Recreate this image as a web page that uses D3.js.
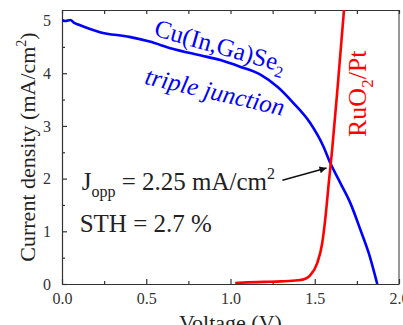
<!DOCTYPE html>
<html>
<head>
<meta charset="utf-8">
<script src="https://cdn.jsdelivr.net/npm/d3@7/dist/d3.min.js"></script>
<style>
  body { margin: 0; background: #fff; }
  text { font-family: "Liberation Serif", "Times New Roman", serif; }
  .axis-label { font-size: 22px; fill: #222; }
</style>
</head>
<body>
<div id="chart"></div>
<script>
// 1: DATA
const cigsVoltage = [0, 0.02, 0.05, 0.07, 0.1, 0.225, 0.4, 0.52, 0.65, 0.82, 0.94, 1.06, 1.18, 1.28, 1.375, 1.474, 1.55, 1.593, 1.653, 1.712, 1.772, 1.821, 1.871];
const cigsCurrent = [5.01, 4.99, 5.01, 4.96, 4.92, 4.78, 4.69, 4.60, 4.47, 4.34, 4.25, 4.12, 3.97, 3.74, 3.43, 3.05, 2.62, 2.29, 1.91, 1.53, 1.02, 0.58, 0.0];

const ruoVoltage = [1.028, 1.1, 1.2, 1.3, 1.4, 1.445, 1.474, 1.514, 1.544, 1.564, 1.583, 1.603, 1.64, 1.68];
const ruoCurrent = [0.02, 0.03, 0.04, 0.05, 0.07, 0.10, 0.17, 0.39, 0.77, 1.28, 1.91, 2.54, 3.9, 5.45];

const xTicks = [0, 0.5, 1.0, 1.5, 2.0];
const xMinor = [0.25, 0.75, 1.25, 1.75];
const yTicks = [0, 1, 2, 3, 4, 5];
const yMinor = [0.5, 1.5, 2.5, 3.5, 4.5];

// 2: SVG SETUP
const margin = { top: 10, right: 4, bottom: 41, left: 62 };
const W = 403, H = 325;
const width = W - margin.left - margin.right;
const height = H - margin.top - margin.bottom;

const svg = d3.select("#chart").append("svg")
    .attr("width", W)
    .attr("height", H);

const g = svg.append("g")
    .attr("transform", `translate(${margin.left},${margin.top})`);

// 3: SCALES
const x = d3.scaleLinear().domain([0, 2.0]).range([0, width]);
const y = d3.scaleLinear().domain([0, 5.2]).range([height, 0]);

svg.append("defs").append("clipPath").attr("id", "plot-clip")
    .append("rect").attr("width", width).attr("height", height);

svg.select("defs").append("marker")
    .attr("id", "arrowhead")
    .attr("viewBox", "0 0 10 10")
    .attr("refX", 10).attr("refY", 5)
    .attr("markerWidth", 11).attr("markerHeight", 7)
    .attr("markerUnits", "userSpaceOnUse")
    .attr("orient", "auto")
    .append("path").attr("d", "M0,0 L10,5 L0,10 Z").attr("fill", "#111");

// 4: AXES (ticks pointing inward)
const axisColor = "#333";
const fmt = d3.format(".1f");

const xAxis = g.append("g").attr("transform", `translate(0,${height})`)
    .call(d3.axisBottom(x).tickValues(xTicks).tickFormat(fmt).tickSizeInner(-5).tickSizeOuter(0).tickPadding(9));
xAxis.selectAll(".tick text").attr("dy", "0.71em");

g.append("g").attr("transform", `translate(0,${height})`)
    .call(d3.axisBottom(x).tickValues(xMinor).tickFormat("").tickSizeInner(-3).tickSizeOuter(0))
    .select(".domain").remove();

g.append("g")
    .call(d3.axisLeft(y).tickValues(yTicks).tickFormat(d3.format("d")).tickSizeInner(-5).tickSizeOuter(0).tickPadding(11));

g.append("g")
    .call(d3.axisLeft(y).tickValues(yMinor).tickFormat("").tickSizeInner(-3).tickSizeOuter(0))
    .select(".domain").remove();

g.append("g")
    .call(d3.axisTop(x).tickValues(xTicks.concat(xMinor)).tickFormat("").tickSizeInner(-4).tickSizeOuter(0));

g.append("line")
    .attr("x1", width).attr("x2", width)
    .attr("y1", 0).attr("y2", height)
    .attr("stroke", axisColor);

g.selectAll(".domain, .tick line").attr("stroke", axisColor).attr("stroke-width", 1.2);
g.selectAll(".tick text")
    .attr("font-family", "'Liberation Serif', 'Times New Roman', serif")
    .attr("font-size", 16)
    .attr("fill", "#333");

// 5: LINES
const line = d3.line()
    .x(d => x(d[0]))
    .y(d => y(d[1]))
    .curve(d3.curveMonotoneX);

const plot = g.append("g").attr("clip-path", "url(#plot-clip)");

plot.append("path")
    .datum(d3.zip(cigsVoltage, cigsCurrent))
    .attr("d", line)
    .attr("fill", "none")
    .attr("stroke", "#0000ff")
    .attr("stroke-width", 2.6);

plot.append("path")
    .datum(d3.zip(ruoVoltage, ruoCurrent))
    .attr("d", line)
    .attr("fill", "none")
    .attr("stroke", "#ff0000")
    .attr("stroke-width", 2.6);

// 6: LABELS
g.append("text")
    .attr("class", "axis-label")
    .attr("x", x(1.0))
    .attr("y", height + 46)
    .attr("text-anchor", "middle")
    .text("Voltage (V)");

const yl = g.append("text")
    .attr("class", "axis-label")
    .attr("transform", "rotate(-90)")
    .attr("x", -y(2.6))
    .attr("y", -27)
    .attr("text-anchor", "middle");
yl.append("tspan").text("Current density (mA/cm");
yl.append("tspan").attr("font-size", 14).attr("dy", -9).text("2");
yl.append("tspan").attr("dy", 9).text(")");

// curve labels
const cigsLabel = g.append("text")
    .attr("transform", `translate(${x(0.54)},${y(4.72)}) rotate(16)`)
    .attr("font-size", 25).attr("fill", "#0000ff");
cigsLabel.append("tspan").text("Cu(In,Ga)Se");
cigsLabel.append("tspan").attr("font-size", 16).attr("dy", 6).text("2");

g.append("text")
    .attr("transform", `translate(${x(0.485)},${y(3.8)}) rotate(13)`)
    .attr("font-size", 25).attr("font-style", "italic").attr("fill", "#0000ff")
    .text("triple junction");

const ruoLabel = g.append("text")
    .attr("transform", `translate(${x(1.807)},${y(2.79)}) rotate(-90)`)
    .attr("font-size", 26).attr("fill", "#ff0000");
ruoLabel.append("tspan").text("RuO");
ruoLabel.append("tspan").attr("font-size", 17).attr("dy", 7).text("2");
ruoLabel.append("tspan").attr("dy", -7).text("/Pt");

// annotations
const jopp = g.append("text")
    .attr("x", x(0.117)).attr("y", y(1.78))
    .attr("font-size", 25).attr("fill", "#222");
jopp.append("tspan").text("J");
jopp.append("tspan").attr("font-size", 16).attr("dy", 7).text("opp");
jopp.append("tspan").attr("dy", -7).text(" = 2.25 mA/cm");
jopp.append("tspan").attr("font-size", 16).attr("dy", -11).text("2");

g.append("text")
    .attr("x", x(0.105)).attr("y", y(0.99))
    .attr("font-size", 25).attr("fill", "#222")
    .text("STH = 2.7 %");

g.append("line")
    .attr("x1", x(1.308)).attr("y1", y(1.97))
    .attr("x2", x(1.57)).attr("y2", y(2.2))
    .attr("stroke", "#111").attr("stroke-width", 1.6)
    .attr("marker-end", "url(#arrowhead)");
</script>
</body>
</html>
